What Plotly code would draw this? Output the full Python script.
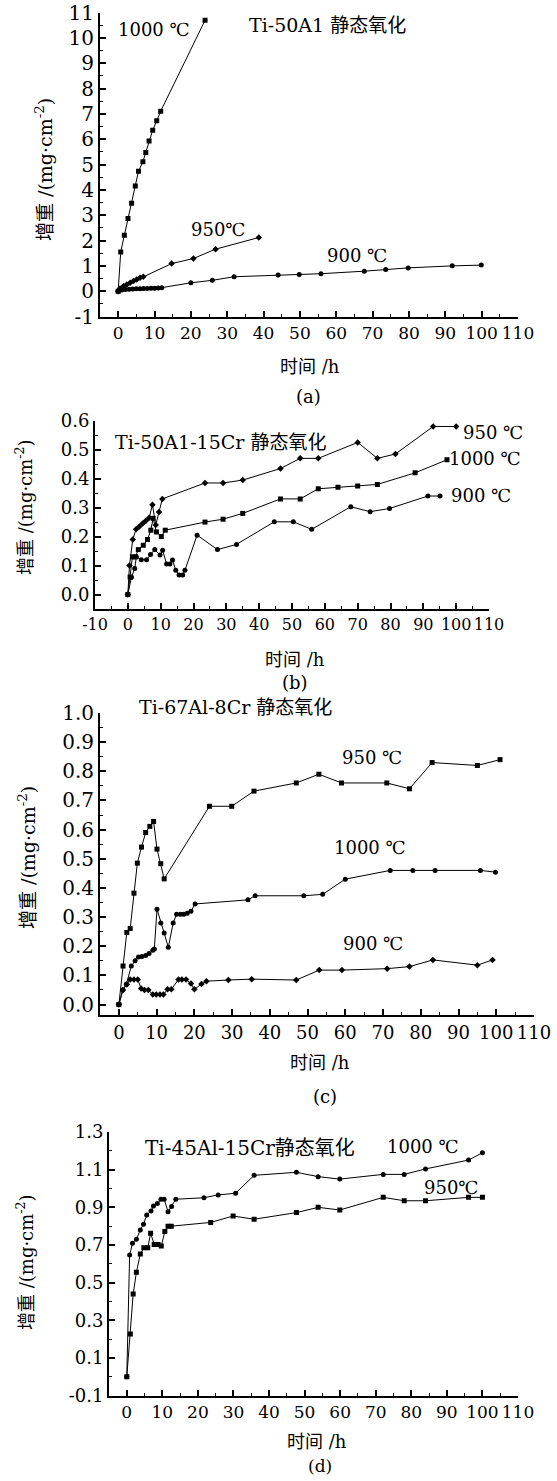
import plotly.graph_objects as go

# ---------------- data ----------------
# (a) Ti-50A1
a_1000_x = [0, 0.7, 1.7, 2.7, 3.7, 4.7, 5.6, 6.8, 7.6, 8.5, 9.5, 10.6, 11.7, 23.9]
a_1000_y = [0, 1.55, 2.21, 2.87, 3.47, 4.15, 4.74, 5.11, 5.48, 5.93, 6.36, 6.73, 7.11, 10.7]
a_950_x = [0, 0.5, 1.5, 2.4, 3.3, 4.2, 5.1, 6.0, 6.9, 14.7, 20.7, 26.8, 38.7]
a_950_y = [0, 0.11, 0.2, 0.26, 0.33, 0.4, 0.46, 0.53, 0.57, 1.09, 1.29, 1.66, 2.12]
a_900_x = [0, 1, 2, 3, 4, 5, 6, 7, 8, 9, 10, 11, 12, 20, 25.9, 31.9, 44, 49.8, 55.8, 67.7, 73.6, 79.8, 91.9, 99.9]
a_900_y = [0, 0.05, 0.07, 0.08, 0.09, 0.1, 0.1, 0.11, 0.11, 0.12, 0.12, 0.13, 0.14, 0.33, 0.43, 0.57, 0.64, 0.66, 0.69, 0.79, 0.86, 0.92, 1.0, 1.03]

# (b) Ti-50A1-15Cr
b_950_x = [0, 0.5, 1.5, 2.5, 3.5, 4.5, 5.5, 6.5, 7.5, 8.5, 9.5, 10.5, 23.5, 29, 35, 46.5, 52.5, 58, 70, 76, 81.5, 93, 100]
b_950_y = [0, 0.1, 0.19, 0.225, 0.235, 0.245, 0.255, 0.265, 0.31, 0.24, 0.285, 0.33, 0.385, 0.385, 0.395, 0.435, 0.47, 0.47, 0.525, 0.47, 0.485, 0.58, 0.58]
b_1000_x = [0, 0.7, 1.4, 2.3, 3.2, 4.7, 6.0, 7.0, 7.7, 8.7, 10.2, 11.4, 23.5, 29, 35, 46.5, 52.5, 58, 64, 70, 76, 87.5, 97.2]
b_1000_y = [0, 0.06, 0.13, 0.13, 0.155, 0.17, 0.19, 0.222, 0.263, 0.216, 0.2, 0.222, 0.25, 0.26, 0.28, 0.33, 0.33, 0.365, 0.37, 0.375, 0.38, 0.42, 0.465]
b_900_x = [0, 1.1, 2.1, 2.6, 4.1, 5.7, 6.9, 8.2, 9.8, 10.6, 11.8, 12.8, 13.6, 14.6, 15.6, 16.7, 17.4, 21.1, 27.3, 33.1, 44.6, 50.4, 56, 67.9, 73.8, 79.7, 91.4, 95.1]
b_900_y = [0, 0.06, 0.09, 0.13, 0.12, 0.12, 0.138, 0.155, 0.136, 0.153, 0.105, 0.105, 0.119, 0.084, 0.067, 0.067, 0.084, 0.205, 0.155, 0.173, 0.251, 0.251, 0.225, 0.303, 0.286, 0.297, 0.34, 0.34]

# (c) Ti-67Al-8Cr
c_950_x = [0, 1.1, 2.1, 3.0, 4.0, 4.9, 6.0, 7.1, 8.2, 9.2, 10.1, 11.1, 12.0, 24, 29.9, 35.8, 47, 53, 59, 71, 77, 83, 95, 101]
c_950_y = [0, 0.132, 0.247, 0.261, 0.382, 0.485, 0.54, 0.59, 0.611, 0.628, 0.533, 0.483, 0.431, 0.68, 0.68, 0.732, 0.76, 0.79, 0.76, 0.76, 0.74, 0.83, 0.82, 0.84]
c_1000_x = [0, 1, 2, 3.3, 4.3, 5.2, 6.1, 7.1, 8.0, 9.0, 9.4, 10.1, 11.1, 12.0, 13.1, 14.4, 15.3, 16.3, 17.2, 18.1, 19.1, 20.2, 34.2, 36.1, 49, 54, 60, 71.9, 77.9, 83.8, 95.8, 99.8]
c_1000_y = [0, 0.05, 0.07, 0.132, 0.15, 0.163, 0.165, 0.168, 0.175, 0.186, 0.19, 0.327, 0.28, 0.245, 0.196, 0.28, 0.31, 0.31, 0.31, 0.313, 0.32, 0.345, 0.359, 0.373, 0.373, 0.378, 0.43, 0.46, 0.46, 0.46, 0.46, 0.454]
c_900_x = [0, 1.1, 2.1, 3.0, 4.0, 5.0, 5.9, 6.8, 7.8, 9.0, 9.9, 10.9, 11.8, 12.9, 13.9, 15.8, 16.7, 17.8, 19.1, 20.0, 21.9, 23.2, 29, 35.2, 47, 53.1, 59.1, 71.1, 77, 83.2, 95, 99]
c_900_y = [0, 0.05, 0.069, 0.086, 0.086, 0.086, 0.055, 0.05, 0.05, 0.034, 0.034, 0.034, 0.034, 0.052, 0.052, 0.086, 0.086, 0.086, 0.072, 0.052, 0.07, 0.08, 0.084, 0.087, 0.084, 0.118, 0.118, 0.123, 0.13, 0.153, 0.135, 0.153]

# (d) Ti-45Al-15Cr
d_1000_x = [0, 0.8, 1.6, 2.7, 3.8, 4.7, 5.6, 6.8, 7.5, 8.6, 9.6, 10.5, 11.6, 12.6, 13.8, 21.7, 25.7, 30.6, 35.8, 47.7, 53.8, 59.9, 72.1, 78, 84, 96.1, 100]
d_1000_y = [0, 0.647, 0.709, 0.73, 0.78, 0.81, 0.86, 0.88, 0.907, 0.92, 0.943, 0.943, 0.877, 0.904, 0.943, 0.951, 0.966, 0.975, 1.07, 1.086, 1.063, 1.05, 1.075, 1.075, 1.104, 1.151, 1.19]
d_950_x = [0, 1.0, 1.8, 2.7, 3.8, 4.8, 5.9, 6.7, 7.7, 8.8, 9.7, 10.7, 11.6, 12.5, 23.6, 29.9, 35.8, 47.7, 53.8, 59.9, 72.1, 78, 84, 96.1, 100]
d_950_y = [0, 0.227, 0.44, 0.555, 0.652, 0.685, 0.685, 0.763, 0.703, 0.703, 0.695, 0.772, 0.8, 0.8, 0.82, 0.854, 0.837, 0.872, 0.9, 0.886, 0.953, 0.935, 0.935, 0.953, 0.953]

x_ticks = [0, 10, 20, 30, 40, 50, 60, 70, 80, 90, 100, 110]
x_ticks_b = [-10, 0, 10, 20, 30, 40, 50, 60, 70, 80, 90, 100, 110]
a_yticks = [-1, 0, 1, 2, 3, 4, 5, 6, 7, 8, 9, 10, 11]
b_yticks = [0.0, 0.1, 0.2, 0.3, 0.4, 0.5, 0.6]
c_yticks = [0.0, 0.1, 0.2, 0.3, 0.4, 0.5, 0.6, 0.7, 0.8, 0.9, 1.0]
d_yticks = [-0.1, 0.1, 0.3, 0.5, 0.7, 0.9, 1.1, 1.3]

W, H = 557, 1481
FONT = "DejaVu Serif, Noto Sans CJK SC, serif"

fig = go.Figure()

def add(x, y, sym, ax):
    fig.add_trace(go.Scatter(
        x=x, y=y, mode="lines+markers",
        line=dict(color="black", width=1),
        marker=dict(symbol=sym, size=5, color="black"),
        xaxis="x" + ax, yaxis="y" + ax, showlegend=False, hoverinfo="skip"))

add(a_1000_x, a_1000_y, "square", "")
add(a_950_x, a_950_y, "diamond", "")
add(a_900_x, a_900_y, "circle", "")
add(b_950_x, b_950_y, "diamond", "2")
add(b_1000_x, b_1000_y, "square", "2")
add(b_900_x, b_900_y, "circle", "2")
add(c_950_x, c_950_y, "square", "3")
add(c_1000_x, c_1000_y, "circle", "3")
add(c_900_x, c_900_y, "diamond", "3")
add(d_1000_x, d_1000_y, "circle", "4")
add(d_950_x, d_950_y, "square", "4")

def fmt(v, nd):
    return f"{v:.{nd}f}"

def xax(domain, rng, ticks, anchor, fs):
    return dict(domain=domain, range=rng, anchor=anchor, automargin=False,
                tickmode="array", tickvals=ticks, ticktext=[fmt(t, 0) for t in ticks],
                tickangle=0, ticklabeloverflow="allow",
                showline=True, linecolor="black", linewidth=2,
                ticks="inside", ticklen=6, tickwidth=1.5, tickcolor="black",
                showgrid=False, zeroline=False,
                tickfont=dict(family=FONT, size=fs, color="black"),
                minor=dict(tickmode="linear", tick0=5, dtick=10, ticks="inside", ticklen=3,
                           tickwidth=1.2, tickcolor="black", showgrid=False))

def yax(domain, rng, ticks, nd, anchor, mt0, mdt, fs):
    return dict(domain=domain, range=rng, anchor=anchor, automargin=False,
                tickmode="array", tickvals=ticks, ticktext=[fmt(t, nd) for t in ticks],
                ticklabeloverflow="allow",
                showline=True, linecolor="black", linewidth=2,
                ticks="inside", ticklen=6, tickwidth=1.5, tickcolor="black",
                showgrid=False, zeroline=False,
                tickfont=dict(family=FONT, size=fs, color="black"),
                minor=dict(tickmode="linear", tick0=mt0, dtick=mdt, ticks="inside", ticklen=3,
                           tickwidth=1.2, tickcolor="black", showgrid=False))

def dom_x(p0, p1):
    return [p0 / W, p1 / W]

def dom_y(top, bottom):
    return [1 - bottom / H, 1 - top / H]

fig.update_layout(
    template="none",
    width=W, height=H, margin=dict(l=0, r=0, t=0, b=0, pad=0, autoexpand=False),
    paper_bgcolor="white", plot_bgcolor="white",
    font=dict(family=FONT, color="black"),
    xaxis=xax(dom_x(100, 518), [-5, 110], x_ticks, "y", 17),
    yaxis=yax(dom_y(12.7, 316.5), [-1, 11], a_yticks, 0, "x", -0.5, 1, 20),
    xaxis2=xax(dom_x(95, 489), [-10, 110], x_ticks_b, "y2", 16),
    yaxis2=yax(dom_y(420.7, 609), [-0.05, 0.6], b_yticks, 1, "x2", 0.05, 0.1, 18),
    xaxis3=xax(dom_x(100, 534), [-5, 110], x_ticks, "y3", 18),
    yaxis3=yax(dom_y(713, 1015), [-0.036, 1.0], c_yticks, 1, "x3", 0.05, 0.1, 20),
    xaxis4=xax(dom_x(109, 518), [-5, 110], x_ticks, "y4", 17),
    yaxis4=yax(dom_y(1132, 1395.7), [-0.1, 1.3], d_yticks, 1, "x4", 0.0, 0.2, 18),
)

def txt(s, px, py, size=17, angle=0):
    fig.add_annotation(text=s, x=px / W, y=1 - py / H,
                       xref="paper", yref="paper",
                       xanchor="center", yanchor="middle", showarrow=False, textangle=angle,
                       font=dict(family=FONT, size=size, color="black"))

ytitle = "增重 /(mg·cm<sup>-2</sup>)"
# (a)
txt("1000 ℃", 154, 30, 18)
txt("Ti-50A1 静态氧化", 327, 25, 19)
txt("950℃", 218, 229, 18)
txt("900 ℃", 357, 255, 18)
txt(ytitle, 44, 170, 19, -90)
txt("时间 /h", 310, 366, 18)
txt("(a)", 308, 397, 18)
# (b)
txt("Ti-50A1-15Cr 静态氧化", 220, 442, 19)
txt("950 ℃", 493, 433, 18)
txt("1000 ℃", 485, 458, 18)
txt("900 ℃", 481, 495, 18)
txt(ytitle, 24, 507, 18, -90)
txt("时间 /h", 295, 659, 18)
txt("(b)", 295, 683, 18)
# (c)
txt("Ti-67Al-8Cr 静态氧化", 235, 707, 19)
txt("950 ℃", 372, 757, 18)
txt("1000 ℃", 370, 847, 18)
txt("900 ℃", 373, 943, 18)
txt(ytitle, 27, 858, 19, -90)
txt("时间 /h", 320, 1062, 18)
txt("(c)", 325, 1096, 18)
# (d)
txt("Ti-45Al-15Cr静态氧化", 250, 1148, 20)
txt("1000 ℃", 423, 1146, 18)
txt("950℃", 451, 1187, 18)
txt(ytitle, 25, 1262, 18, -90)
txt("时间 /h", 317, 1441, 18)
txt("(d)", 320, 1466, 17)

# remove the browser's default 8px body margin so the figure fills the window exactly
fig.write_html("out.html", config={"displayModeBar": False},
               post_script="document.body.style.margin='0px';")
